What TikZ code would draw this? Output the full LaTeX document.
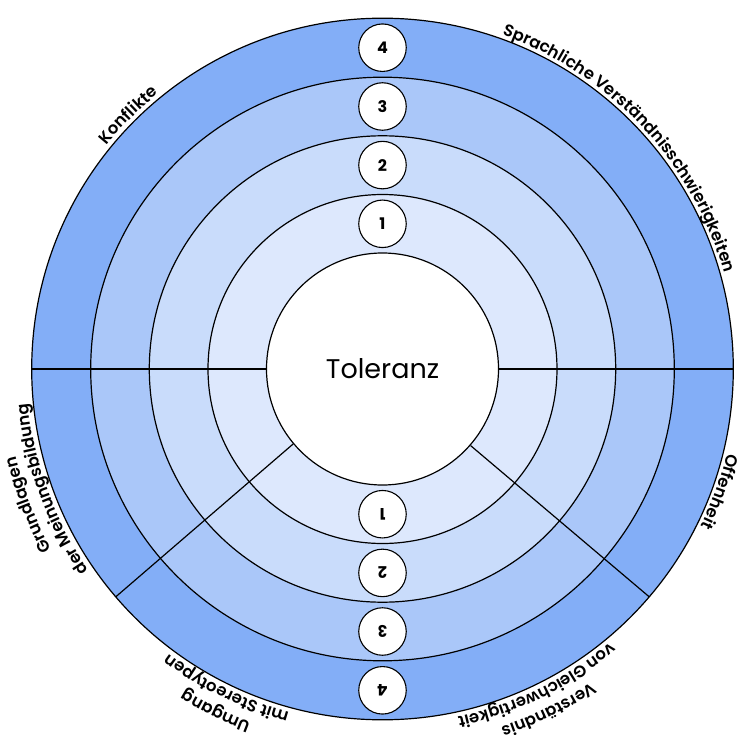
\documentclass[tikz,border=0pt]{standalone}
\usepackage{fontspec}
\setmainfont{Poppins}
\newfontfamily\lblfam{Poppins SemiBold}
\usetikzlibrary{decorations.text}
\definecolor{ringD}{HTML}{83AEF7}
\definecolor{ringC}{HTML}{AAC7F9}
\definecolor{ringB}{HTML}{C9DCFB}
\definecolor{ringA}{HTML}{DDE8FD}
\newcommand{\lblfont}{\lblfam\fontsize{16.5}{16.5}\selectfont}
\begin{document}
\begin{tikzpicture}[x=1pt,y=1pt,
  ringline/.style={line width=1.2pt},
  numcirc/.style={circle, draw, fill=white, line width=1.1pt, minimum size=47.5pt, inner sep=0pt,
    font=\fontsize{16}{16}\selectfont\bfseries},
  curvlbl/.style={decorate, decoration={text along path, text align=center, text={#1}}}]
\useasboundingbox (-382.5,-373) rectangle (366.5,369);
\def\rA{116}\def\rB{174.5}\def\rC{233.2}\def\rD{291.8}\def\rE{350.8}
% rings
\fill[ringD] (0,0) circle (\rE);
\fill[ringC] (0,0) circle (\rD);
\fill[ringB] (0,0) circle (\rC);
\fill[ringA] (0,0) circle (\rB);
\draw[ringline] (0,0) circle (\rE) (0,0) circle (\rD) (0,0) circle (\rC) (0,0) circle (\rB);
% centre
\node[circle, draw, fill=white, ringline, minimum size=232pt, inner sep=0pt,
  font=\fontsize{27}{27}\selectfont] (core) at (0,0) {Toleranz};
% sector lines
\coordinate (eL) at (180:\rE);
\coordinate (eR) at (0:\rE);
\coordinate (eBL) at (220.5:\rE);
\coordinate (eBR) at (319.5:\rE);
\draw[ringline] (core.180) -- (eL);
\draw[ringline] (core.0) -- (eR);
\draw[ringline] (core.220.5) -- (eBL);
\draw[ringline] (core.319.5) -- (eBR);
% number circles
\node[numcirc] (t1) at (90:145.2) {1};
\node[numcirc] (t2) at (90:203.9) {2};
\node[numcirc] (t3) at (90:262.5) {3};
\node[numcirc] (t4) at (90:321.3) {4};
\node[numcirc, rotate=180] (b1) at (270:145.2) {1};
\node[numcirc, rotate=180] (b2) at (270:203.9) {2};
\node[numcirc, rotate=180] (b3) at (270:262.5) {3};
\node[numcirc, rotate=180] (b4) at (270:321.3) {4};
% labels along the rim
\path[curvlbl={|\lblfont|Konflikte}] (175:355) arc[start angle=175, end angle=95, radius=355];
\path[curvlbl={|\lblfont|Sprachliche Verständnisschwierigkeiten}] (103:355) arc[start angle=103, end angle=-17, radius=355];
\path[curvlbl={|\lblfont|Offenheit}] (20:355) arc[start angle=20, end angle=-60, radius=355];
\path[curvlbl={|\lblfont|Grundlagen}] (241:377) arc[start angle=241, end angle=161, radius=377];
\path[curvlbl={|\lblfont|der Meinungsbildung}] (240:356) arc[start angle=240, end angle=160, radius=356];
\path[curvlbl={|\lblfont|Umgang}] (284:377) arc[start angle=284, end angle=204, radius=377];
\path[curvlbl={|\lblfont|mit Stereotypen}] (284:356) arc[start angle=284, end angle=204, radius=356];
\path[curvlbl={|\lblfont|Verständnis}] (336:377) arc[start angle=336, end angle=256, radius=377];
\path[curvlbl={|\lblfont|von Gleichwertigkeit}] (336:356) arc[start angle=336, end angle=256, radius=356];
\end{tikzpicture}
\end{document}
